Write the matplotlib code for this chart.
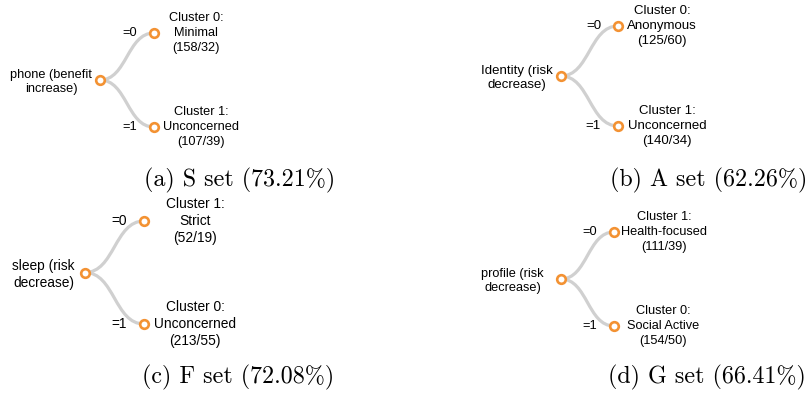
import matplotlib
matplotlib.use("Agg")
import matplotlib.pyplot as plt
from matplotlib.path import Path
from matplotlib.patches import PathPatch

# data: one split per set
set_names = ["S", "A", "F", "G"]
accuracy = [73.21, 62.26, 72.08, 66.41]
root_labels = ["phone (benefit\nincrease)", "Identity (risk\ndecrease)",
               "sleep (risk\ndecrease)", "profile (risk\ndecrease)"]
edge_labels = ["=0", "=1"]
leaf_cluster = [[0, 1], [0, 1], [1, 0], [1, 0]]
leaf_names = [["Minimal", "Unconcerned"], ["Anonymous", "Unconcerned"],
              ["Strict", "Unconcerned"], ["Health-focused", "Social Active"]]
leaf_counts = [[(158, 32), (107, 39)], [(125, 60), (140, 34)],
               [(52, 19), (213, 55)], [(111, 39), (154, 50)]]

# layout (pixels): root x, child x, child0 y, child1 y
W, H = 812, 395
boxes = [(100, 154, 33, 127), (561, 618, 26, 126),
         (85, 144, 221, 324), (561, 614, 232, 326)]
font_px = [12.7, 13.2, 13.8, 12.7]
root_dx = [-8, -8, -10, -17]
leaf_dx = [[42, 47], [44, 49], [51, 51], [50, 49]]
caption_xy = [(240, 186), (709, 186), (238, 383), (707, 383)]

orange = "#f39233"
grey = "#d0d0d0"

fig = plt.figure(figsize=(W / 100, H / 100), dpi=100)

for i in range(4):
    x0, x1, y0, y1 = boxes[i]
    ax = fig.add_axes([x0 / W, 1 - y1 / H, (x1 - x0) / W, (y1 - y0) / H])
    ax.set_xlim(0, 1)
    ax.set_ylim(1, 0)
    ax.axis("off")
    fs = font_px[i] * 0.72

    root = (0.0, 0.5)
    leaves = [(1.0, 0.0), (1.0, 1.0)]
    for leaf in leaves:
        mx = (root[0] + leaf[0]) / 2
        p = Path([root, (mx, root[1]), (mx, leaf[1]), leaf],
                 [Path.MOVETO, Path.CURVE4, Path.CURVE4, Path.CURVE4])
        ax.add_patch(PathPatch(p, fc="none", ec=grey, lw=2.3, clip_on=False, zorder=1))

    xs = [root[0]] + [l[0] for l in leaves]
    ys = [root[1]] + [l[1] for l in leaves]
    ax.plot(xs, ys, "o", ls="none", ms=6.2, mfc="white", mec=orange, mew=1.9,
            clip_on=False, zorder=3)

    ax.annotate(root_labels[i], root, xytext=(root_dx[i], -2), textcoords="offset pixels",
                ha="right", va="center", multialignment="center", fontsize=fs,
                family="Liberation Sans", linespacing=1.2)

    for j, leaf in enumerate(leaves):
        ax.annotate(edge_labels[j], leaf, xytext=(-17, 0), textcoords="offset pixels",
                    ha="right", va="center", fontsize=fs, family="Liberation Sans")
        n, m = leaf_counts[i][j]
        txt = "Cluster %d:\n%s\n(%d/%d)" % (leaf_cluster[i][j], leaf_names[i][j], n, m)
        ax.annotate(txt, leaf, xytext=(leaf_dx[i][j], 0), textcoords="offset pixels",
                    ha="center", va="center", multialignment="center", fontsize=fs,
                    family="Liberation Sans", linespacing=1.3)

    cx, cy = caption_xy[i]
    fig.text(cx / W, 1 - cy / H,
             "(%s) %s set (%.2f%%)" % ("abcd"[i], set_names[i], accuracy[i]),
             ha="center", va="baseline", fontsize=17.3, family="cmr10")

fig.savefig("out.png", dpi=100)
